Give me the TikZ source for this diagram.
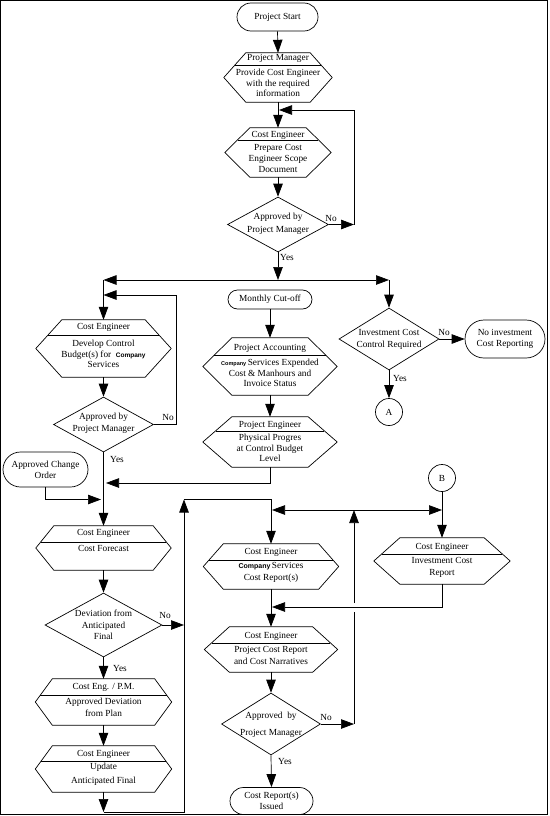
\documentclass[tikz,border=0pt]{standalone}
\usepackage{fontspec}
\setmainfont{Liberation Serif}
\newfontfamily\cofont{Liberation Sans}
\usetikzlibrary{arrows.meta,shapes.geometric,shapes.misc,calc}

\tikzset{
  line/.style={line width=0.7pt},
  arr/.style={line, -{Triangle[length=13pt,width=9.5pt]}},
  txt/.style={align=center, inner sep=0pt, font=\fontsize{9.3}{10.8}\selectfont},
  hexbox/.style={rectangle, inner sep=0pt},
  decision/.style={diamond, draw, line, inner sep=0pt},
  terminal/.style={rounded rectangle, draw, line, inner sep=0pt, align=center,
    font=\fontsize{9.3}{10.8}\selectfont},
  conn/.style={circle, draw, line, inner sep=0pt, minimum size=27pt,
    font=\fontsize{9.3}{10.8}\selectfont},
}
% "Company" in the sans face
\newcommand{\Co}[1]{{\cofont\bfseries\fontsize{#1}{8}\selectfont Company}}
% hexagon round a box: name, inset, divider fraction
\newcommand{\hexa}[3]{%
  \draw[line] (#1.west) -- ([xshift=#2]#1.north west) -- ([xshift=-#2]#1.north east)
    -- (#1.east) -- ([xshift=-#2]#1.south east) -- ([xshift=#2]#1.south west) -- cycle;
  \draw[line] ($([xshift=#2]#1.north west)!#3!(#1.west)$)
    -- ($([xshift=-#2]#1.north east)!#3!(#1.east)$);
}

\begin{document}
\begin{tikzpicture}[x=1pt, y=-1pt]
	\useasboundingbox (0,0) rectangle (549,816);
	\draw[line width=1pt] (0.6,0.6) rectangle (547.6,814.8);
	
	% top column
	\node[terminal, minimum width=81pt, minimum height=28pt] (start) at (277.5,17) {Project Start};
	
	\node[hexbox, minimum width=108pt, minimum height=49pt] (pm) at (278,77.5) {};
	\hexa{pm}{22pt}{0.49}
	\node[txt] (pmh) at (278,58) {Project Manager};
	\node[txt] (pmb) at (278,83) {Provide Cost Engineer\\with the required\\information};
	
	\node[hexbox, minimum width=106pt, minimum height=49pt] (ce1) at (278,152.5) {};
	\hexa{ce1}{25pt}{0.49}
	\node[txt] (ce1h) at (278,135) {Cost Engineer};
	\node[txt] (ce1b) at (278,158.5) {Prepare Cost\\Engineer Scope\\Document};
	
	\node[decision, minimum width=101pt, minimum height=55pt] (ap1) at (278,224.5) {};
	\node[txt] (ap1t) at (278,223.5) {Approved by\\[2pt]Project Manager};
	
	\coordinate (n1) at (354,224.5);
	\coordinate (n1t) at (354,110);
	\coordinate (n1e) at (279,110);
	\coordinate (sp) at (278,280);
	\coordinate (spL) at (103.5,280);
	\coordinate (spR) at (389,280);
	
	% middle column
	\node[terminal, minimum width=84pt, minimum height=19pt] (mco) at (270,299.5) {Monthly Cut-off};
	
	\node[hexbox, minimum width=134pt, minimum height=57pt] (pa) at (270,366.5) {};
	\hexa{pa}{29pt}{0.6}
	\node[txt] (pah) at (270,348) {Project Accounting};
	\node[txt] (pab) at (270,373) {\Co{5.5}\,Services Expended\\Cost \& Manhours and\\Invoice Status};
	
	\node[hexbox, minimum width=134pt, minimum height=50pt] (pe) at (270,442) {};
	\hexa{pe}{29pt}{0.56}
	\node[txt] (peh) at (270,425) {Project Engineer};
	\node[txt] (peb) at (270,448) {Physical Progres\\at Control Budget\\Level};
	
	% right column
	\node[decision, minimum width=100pt, minimum height=62pt] (ic) at (389,339) {};
	\node[txt] (ict) at (389,339.5) {Investment Cost\\[2pt]Control Required};
	\node[terminal, minimum width=80pt, minimum height=38pt] (ni) at (505,339) {No investment\\Cost Reporting};
	\node[conn] (A) at (389,412) {A};
	\node[conn] (B) at (442,478) {B};
	
	% left column
	\node[hexbox, minimum width=135pt, minimum height=57pt] (dcb) at (103.5,348.5) {};
	\hexa{dcb}{26pt}{0.53}
	\node[txt] (dcbh) at (103.5,327) {Cost Engineer};
	\node[txt] (dcbb) at (103.5,354) {Develop Control\\Budget(s) for\enspace\Co{6.5}\\Services};
	
	\node[decision, minimum width=100pt, minimum height=55pt] (ap2) at (103.5,424.5) {};
	\node[txt] (ap2t) at (103.5,423) {Approved by\\[1pt]Project Manager};
	
	\node[terminal, minimum width=85pt, minimum height=35pt] (aco) at (45.5,469.5) {Approved Change\\Order};
	
	\node[hexbox, minimum width=135pt, minimum height=44pt] (cf) at (103.5,548) {};
	\hexa{cf}{18pt}{0.73}
	\node[txt] (cfh) at (103.5,533) {Cost Engineer};
	\node[txt] (cfb) at (103.5,548) {Cost Forecast};
	
	\node[decision, minimum width=117pt, minimum height=64pt] (dev) at (103.5,625) {};
	\node[txt] (devt) at (103.5,625) {Deviation from\\[0.7pt]Anticipated\\[0.7pt]Final};
	
	\node[hexbox, minimum width=136pt, minimum height=46pt] (ced) at (103.5,702) {};
	\hexa{ced}{17pt}{0.7}
	\node[txt] (cedh) at (103.5,687) {Cost Eng. / P.M.};
	\node[txt] (cedb) at (103.5,707) {Approved Deviation\\[1pt]from Plan};
	
	\node[hexbox, minimum width=136pt, minimum height=46pt] (ua) at (103.5,769) {};
	\hexa{ua}{17pt}{0.65}
	\node[txt] (uah) at (103.5,754) {Cost Engineer};
	\node[txt] (uab) at (103.5,774) {Update\\[3pt]Anticipated Final};
	
	% lower middle column
	\node[hexbox, minimum width=135pt, minimum height=45pt] (cs) at (271,566.5) {};
	\hexa{cs}{20pt}{0.71}
	\node[txt] (csh) at (271,552) {Cost Engineer};
	\node[txt] (csb) at (271,572.5) {\Co{7}\,Services\\[2pt]Cost Report(s)};
	
	\node[hexbox, minimum width=136pt, minimum height=46pt] (ie) at (442,561) {};
	\hexa{ie}{26pt}{0.7}
	\node[txt] (ieh) at (442,547) {Cost Engineer};
	\node[txt] (ieb) at (442,567.5) {Investment Cost\\[2pt]Report};
	
	\node[hexbox, minimum width=133pt, minimum height=45pt] (pcr) at (271,649.5) {};
	\hexa{pcr}{25pt}{0.71}
	\node[txt] (pcrh) at (271,636) {Cost Engineer};
	\node[txt] (pcrb) at (271,655.5) {Project Cost Report\\[2pt]and Cost Narratives};
	
	\node[decision, minimum width=99pt, minimum height=62pt] (ap3) at (271,724) {};
	\node[txt] (ap3t) at (271,724.5) {Approved\enspace by\\[6pt]Project Manager};
	
	\node[terminal, minimum width=83pt, minimum height=27pt] (cri) at (271.5,801) {Cost Report(s)\\Issued};
	
	\coordinate (n2) at (176,295);
	\coordinate (n2e) at (103.5,295);
	\coordinate (m1) at (106,483);
	\coordinate (m2) at (101,499.5);
	\coordinate (b1) at (103.5,812);
	\coordinate (b2) at (184,499.5);
	\coordinate (d1) at (184,625);
	\coordinate (j) at (354,510);
	\coordinate (jl) at (272,510);
	\coordinate (jr) at (442,510);
	\coordinate (n3) at (354,724);
	\coordinate (g1) at (354,612);
	\coordinate (g2) at (354,603);
	\coordinate (r1) at (272,607);
	
	% connectors
	\draw[arr] (start.south) -- (pm.north);
	\draw[arr] (pm.south) -- (ce1.north);
	\draw[arr] (ce1.south) -- (ap1.north);
	\draw[arr] (ap1.east) -- (n1);
	\draw[arr] (n1) -- (n1t) -- (n1e);
	\draw[arr] (ap1.south) -- (sp);
	\draw[arr] (sp) -- (spL);
	\draw[arr] (spL) -- (dcb.north);
	\draw[arr] (sp) -- (spR);
	\draw[arr] (spR) -- (ic.north);
	
	\draw[arr] (dcb.south) -- (ap2.north);
	\draw[arr] (ap2.east) -| (n2) -- (n2e);
	\draw[arr] (ap2.south) -- (cf.north);
	\draw[arr] (mco.south) -- (pa.north);
	\draw[arr] (pa.south) -- (pe.north);
	\draw[arr] (pe.south) |- (m1);
	\draw[arr] (aco.south) |- (m2);
	
	\draw[arr] (ic.east) -- (ni.west);
	\draw[arr] (ic.south) -- (A.north);
	
	\draw[arr] (cf.south) -- (dev.north);
	\draw[arr] (dev.south) -- (ced.north);
	\draw[arr] (ced.south) -- (ua.north);
	\draw[arr] (dev.east) -- (d1);
	\draw[arr] (ua.south) -- (b1);
	\draw[arr] (b1) -| (b2);
	\draw[arr] (b2) -| (cs.north);
	
	\draw[arr] (B.south) -- (ie.north);
	\draw[arr] (j) -- (jl);
	\draw[arr] (j) -- (jr);
	\draw[arr] (ie.south) |- (r1);
	\draw[arr] (cs.south) -- (pcr.north);
	\draw[arr] (pcr.south) -- (ap3.north);
	\draw[arr] (ap3.south) -- (cri.north);
	\draw[arr] (ap3.east) -- (n3);
	\draw[line] (n3) -- (g1);
	\draw[arr] (g2) -- (j);
	
	% yes / no
	\node[txt] (no1) at (331,218) {No};
	\node[txt] (yes1) at (287,257) {Yes};
	\node[txt] (no2) at (168,417) {No};
	\node[txt] (yes2) at (117,459) {Yes};
	\node[txt] (no3) at (444,332) {No};
	\node[txt] (yes3) at (400,378) {Yes};
	\node[txt] (no4) at (165,615) {No};
	\node[txt] (yes4) at (120,668) {Yes};
	\node[txt] (no5) at (326,717) {No};
	\node[txt] (yes5) at (285,761) {Yes};
\end{tikzpicture}
\end{document}
